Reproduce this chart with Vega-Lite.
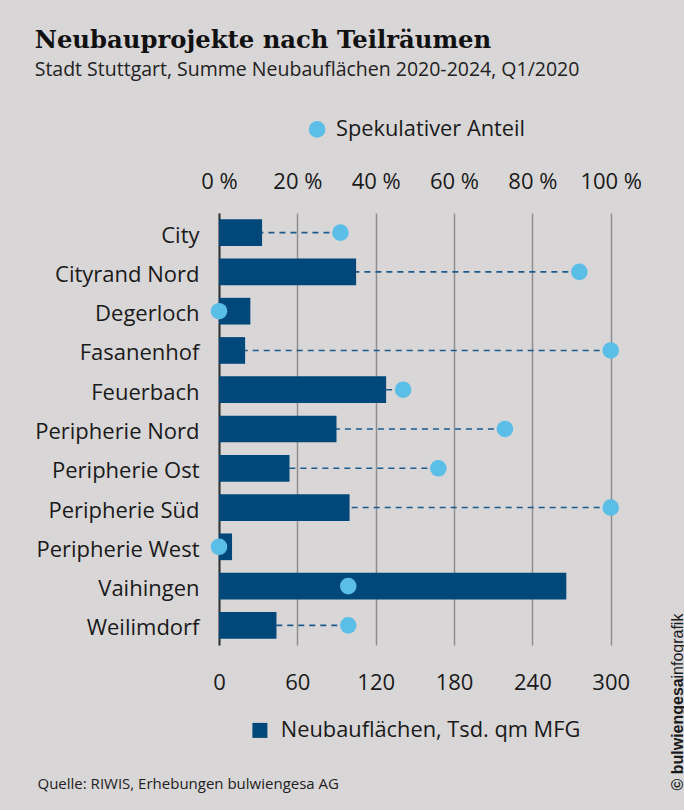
{
  "$schema": "https://vega.github.io/schema/vega-lite/v6.json",
  "width": 391.7,
  "height": 432,
  "autosize": "none",
  "padding": {"left": 219, "top": 213, "right": 73.3, "bottom": 165},
  "background": "#d8d6d7",
  "config": {
    "view": {"stroke": null},
    "font": "Open Sans",
    "axis": {"labelFont": "Open Sans", "labelColor": "#1a1a1a", "titleFont": "Open Sans"},
    "legend": {"labelFont": "Open Sans", "labelColor": "#1a1a1a"}
  },
  "title": {
    "text": "Neubauprojekte nach Teilräumen",
    "subtitle": "Stadt Stuttgart, Summe Neubauflächen 2020-2024, Q1/2020",
    "anchor": "start",
    "frame": "bounds",
    "font": "DejaVu Serif",
    "fontSize": 24.3,
    "fontWeight": "bold",
    "color": "#111111",
    "subtitleFont": "Open Sans",
    "subtitleFontSize": 19.5,
    "subtitleColor": "#222222",
    "subtitlePadding": 8,
    "offset": 39
  },
  "data": {
    "values": [
      {"region": "City", "value": 33, "pct": 31},
      {"region": "Cityrand Nord", "value": 105, "pct": 92},
      {"region": "Degerloch", "value": 24, "pct": 0},
      {"region": "Fasanenhof", "value": 20, "pct": 100},
      {"region": "Feuerbach", "value": 128, "pct": 47},
      {"region": "Peripherie Nord", "value": 90, "pct": 73},
      {"region": "Peripherie Ost", "value": 54, "pct": 56},
      {"region": "Peripherie Süd", "value": 100, "pct": 100},
      {"region": "Peripherie West", "value": 10, "pct": 0},
      {"region": "Vaihingen", "value": 266, "pct": 33},
      {"region": "Weilimdorf", "value": 44, "pct": 33}
    ]
  },
  "layer": [
    {
      "mark": {"type": "rule", "strokeDash": [6, 5], "strokeWidth": 1.6, "color": "#1d5a8c"},
      "encoding": {
        "y": {"field": "region", "type": "nominal", "sort": null,
              "scale": {"paddingInner": 0.32, "paddingOuter": 0.16}, "axis": null},
        "x": {"field": "pct", "type": "quantitative", "scale": {"domain": [0, 100]}, "axis": null},
        "x2": {"datum": 0}
      }
    },
    {
      "mark": {"type": "bar"},
      "encoding": {
        "y": {"field": "region", "type": "nominal", "sort": null,
              "axis": {"orient": "left", "domain": true, "domainColor": "#333333", "domainWidth": 2,
                       "ticks": false, "grid": false, "labelFontSize": 22, "labelPadding": 20, "labelOffset": 3,
                       "labelLimit": 0,
                       "title": "© bulwiengesa", "titleAngle": 270, "titleAlign": "left", "titleBaseline": "middle",
                       "titleX": 458, "titleY": 577, "titleFont": "Liberation Sans", "titleFontWeight": "bold",
                       "titleFontSize": 16, "titleColor": "#1a1a1a"}},
        "x": {"field": "value", "type": "quantitative", "scale": {"domain": [0, 300]},
              "axis": {"orient": "bottom", "values": [0, 60, 120, 180, 240, 300], "grid": true,
                       "gridColor": "#8e8e8e", "gridWidth": 1.5, "domain": false, "ticks": false,
                       "labelFontSize": 22, "labelPadding": 27, "labelOverlap": false, "labelFlush": false,
                       "title": "Quelle: RIWIS, Erhebungen bulwiengesa AG", "titleX": -182, "titleY": 143,
                       "titleAlign": "left", "titleAnchor": "start", "titleBaseline": "alphabetic",
                       "titleFontSize": 15, "titleFontWeight": "normal", "titleColor": "#222222"}},
        "fill": {"datum": "Neubauflächen, Tsd. qm MFG", "type": "nominal",
                 "scale": {"range": ["#00487a"]},
                 "legend": {"orient": "none", "legendX": 30, "legendY": 506.5, "title": null,
                            "symbolType": "square", "symbolSize": 225, "labelFontSize": 21.8,
                            "labelOffset": 10, "padding": 0, "labelLimit": 0}}
      }
    },
    {
      "mark": {"type": "point", "filled": true, "shape": "circle", "size": 275, "opacity": 1},
      "encoding": {
        "y": {"field": "region", "type": "nominal", "sort": null,
              "axis": {"orient": "right", "labels": false, "ticks": false, "domain": false, "grid": false,
                       "title": "infografik", "titleAngle": 270, "titleAlign": "left", "titleBaseline": "middle",
                       "titleX": 66.3, "titleY": 465, "titleFont": "Liberation Sans", "titleFontWeight": "normal",
                       "titleFontSize": 16, "titleColor": "#1a1a1a"}},
        "x": {"field": "pct", "type": "quantitative", "scale": {"domain": [0, 100]},
              "axis": {"orient": "top", "values": [0, 20, 40, 60, 80, 100], "labelExpr": "datum.value + ' %'",
                       "grid": false, "domain": false, "ticks": false, "labelFontSize": 22,
                       "labelPadding": 20, "labelOverlap": false, "labelFlush": false, "title": null}},
        "fill": {"datum": "Spekulativer Anteil", "type": "nominal",
                 "scale": {"range": ["#5bbee6"]},
                 "legend": {"orient": "none", "legendX": 87.2, "legendY": -94.5, "title": null,
                            "symbolType": "circle", "symbolSize": 275, "symbolOpacity": 1,
                            "labelFontSize": 21.8, "labelOffset": 8, "padding": 0, "labelLimit": 0}}
      }
    }
  ],
  "resolve": {
    "scale": {"x": "independent", "fill": "independent"},
    "axis": {"x": "independent", "y": "independent"},
    "legend": {"fill": "independent"}
  }
}
